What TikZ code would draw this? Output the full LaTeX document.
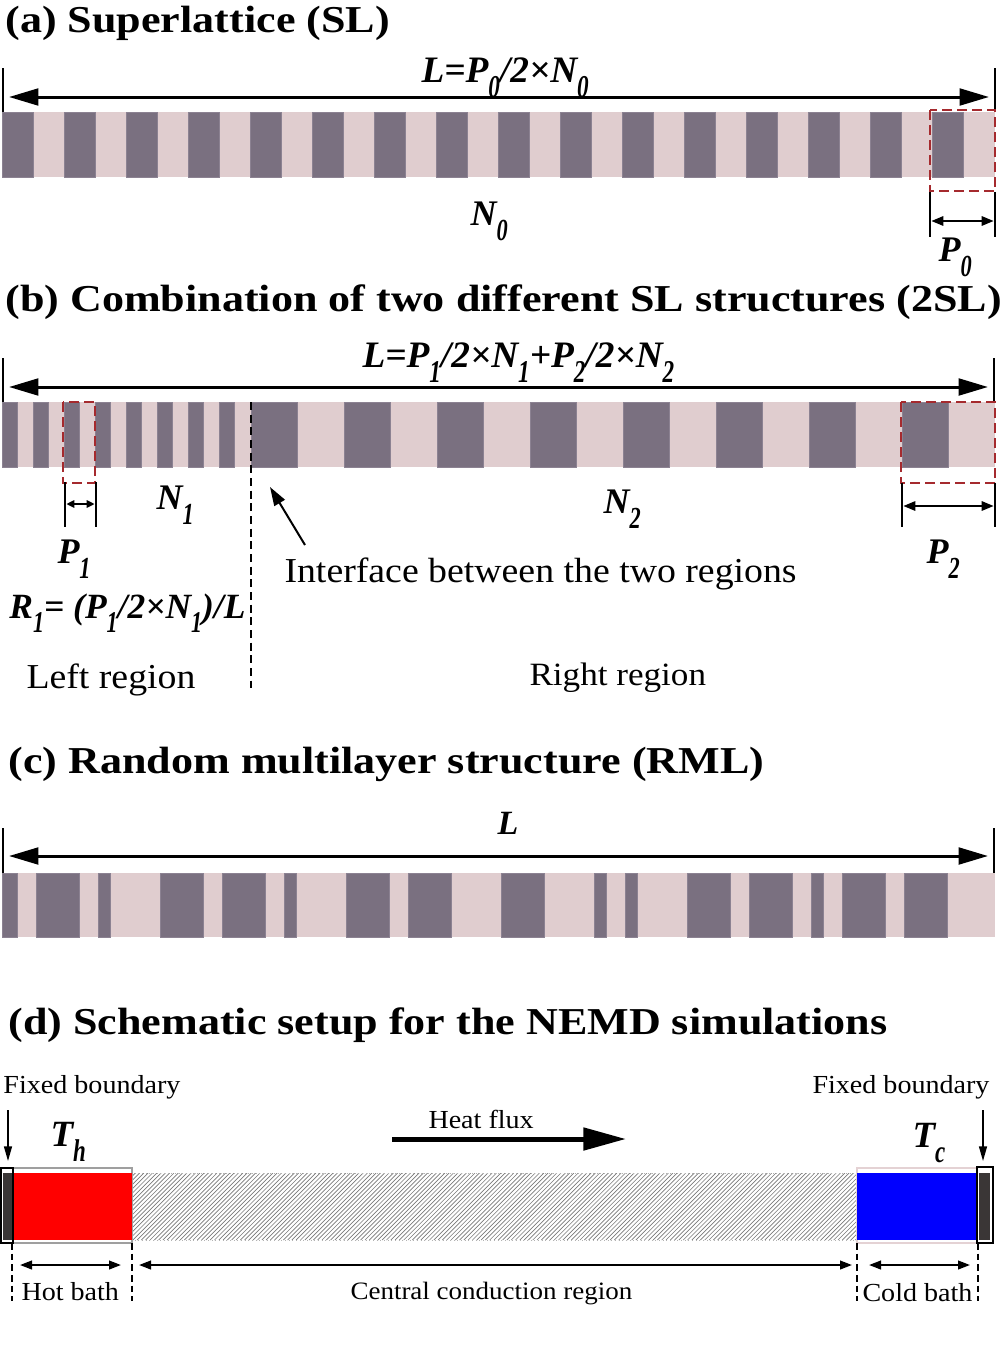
\documentclass[tikz,border=0pt]{standalone}
\usepackage{graphicx}
\usepackage{fontspec}
\setmainfont{Liberation Serif}
\newfontfamily\ttlfont{Liberation Serif}[FakeStretch=1.16]
\newfontfamily\lblfont{Liberation Serif}[FakeStretch=1.08]
\usetikzlibrary{arrows.meta}

\definecolor{slDark}{RGB}{122,112,128}
\definecolor{slEdge}{RGB}{140,130,146}
\definecolor{slLight}{RGB}{224,205,207}
\definecolor{boxRed}{RGB}{165,42,46}
\definecolor{fixGray}{RGB}{58,54,54}
\definecolor{coldEdge}{RGB}{228,210,212}
\definecolor{hatchGray}{RGB}{120,120,120}

\newcommand{\sbs}[1]{\raisebox{-0.42em}{\scalebox{0.62}[0.85]{#1}}}

\tikzset{every picture/.style={line width=0.75pt}}
\tikzset{
  ttl/.style={anchor=base west, inner sep=0pt, font=\ttlfont\bfseries\fontsize{28.5}{30}\selectfont},
  frm/.style={anchor=base west, inner sep=0pt, font=\bfseries\itshape\fontsize{27}{30}\selectfont},
  lbl/.style={anchor=base west, inner sep=0pt, font=\lblfont\fontsize{19.5}{22}\selectfont},
  big lbl/.style={anchor=base west, inner sep=0pt, font=\lblfont\fontsize{26.25}{28}\selectfont},
  dark/.style={fill=slDark, draw=slEdge, line width=0.4pt},
  tick/.style={line width=1.1pt},
  dimline/.style={line width=2.25pt, {Triangle[length=22pt,width=12.5pt]}-{Triangle[length=22pt,width=12.5pt]}, shorten <=4.5pt, shorten >=4.5pt},
  perline/.style={line width=1.5pt, {Triangle[length=9pt,width=7pt]}-{Triangle[length=9pt,width=7pt]}, shorten <=1pt, shorten >=1pt},
  boxdash/.style={draw=boxRed, line width=1.9pt, dash pattern=on 7.5pt off 3.75pt},
  bathdash/.style={line width=1.1pt, dash pattern=on 5pt off 3pt},
  bathline/.style={line width=1.5pt, {Triangle[length=9pt,width=6.5pt]}-{Triangle[length=9pt,width=6.5pt]}},
}

\begin{document}
\begin{tikzpicture}[x=0.75pt,y=0.75pt,yscale=-1,xscale=1]
\useasboundingbox (0,0) rectangle (1000,1349);

%%%%%%%%%% (a) Superlattice
% Text Node
\draw (5,32) node (ttlA) [ttl] {(a) Superlattice (SL)};
%Straight Lines: dimension L
\coordinate (aTL) at (3,68); \coordinate (aBL) at (3,112);
\coordinate (aTR) at (995,68); \coordinate (aBR) at (995,112);
\coordinate (aL) at (3,97); \coordinate (aR) at (995,97);
\draw [tick] (aTL) -- (aBL);
\draw [tick] (aTR) -- (aBR);
\draw [dimline] (aL) -- (aR);
% Text Node
\draw (421,82) node (frmA) [frm,font=\bfseries\itshape\fontsize{28}{30}\selectfont] {L=P\sbs{0}/2×N\sbs{0}};
%Shape: Rectangle (light base)
\draw [fill=slLight, draw=none] (2,112) rectangle (995,177);
%Shape: Rectangle (dark layers)
\draw [dark] (2,112) rectangle (33,177);
\draw [dark] (64,112) rectangle (95,177);
\draw [dark] (126,112) rectangle (157,177);
\draw [dark] (188,112) rectangle (219,177);
\draw [dark] (250,112) rectangle (281,177);
\draw [dark] (312,112) rectangle (343,177);
\draw [dark] (374,112) rectangle (405,177);
\draw [dark] (436,112) rectangle (467,177);
\draw [dark] (498,112) rectangle (529,177);
\draw [dark] (560,112) rectangle (591,177);
\draw [dark] (622,112) rectangle (653,177);
\draw [dark] (684,112) rectangle (715,177);
\draw [dark] (746,112) rectangle (777,177);
\draw [dark] (808,112) rectangle (839,177);
\draw [dark] (870,112) rectangle (901,177);
\draw [dark] (932,112) rectangle (963,177);
%Shape: Rectangle (period box)
\draw [boxdash] (930,110) rectangle (995,191);
%Straight Lines: period P0
\coordinate (p0TL) at (930,192); \coordinate (p0BL) at (930,237);
\coordinate (p0TR) at (995,192); \coordinate (p0BR) at (995,237);
\coordinate (p0L) at (930,221); \coordinate (p0R) at (995,221);
\draw [tick] (p0TL) -- (p0BL);
\draw [tick] (p0TR) -- (p0BR);
\draw [perline] (p0L) -- (p0R);
% Text Node
\draw (938,261) node (lblP0) [frm] {P\sbs{0}};
% Text Node
\draw (470,225) node (lblN0) [frm] {N\sbs{0}};

%%%%%%%%%% (b) Two SL structures
% Text Node
\draw (5,311) node (ttlB) [ttl] {(b) Combination of two different SL structures (2SL)};
%Straight Lines: dimension L
\coordinate (bTL) at (3,358); \coordinate (bBL) at (3,402);
\coordinate (bTR) at (994,358); \coordinate (bBR) at (994,402);
\coordinate (bL) at (3,387); \coordinate (bR) at (994,387);
\draw [tick] (bTL) -- (bBL);
\draw [tick] (bTR) -- (bBR);
\draw [dimline] (bL) -- (bR);
% Text Node
\draw (362,367) node (frmB) [frm,font=\bfseries\itshape\fontsize{28}{30}\selectfont] {L=P\sbs{1}/2×N\sbs{1}+P\sbs{2}/2×N\sbs{2}};
%Shape: Rectangle (light base)
\draw [fill=slLight, draw=none] (2,402) rectangle (995,467);
%Shape: Rectangle (dark layers, left region)
\draw [dark] (2,402) rectangle (17.5,467);
\draw [dark] (33,402) rectangle (48.5,467);
\draw [dark] (64,402) rectangle (79.5,467);
\draw [dark] (95,402) rectangle (110.5,467);
\draw [dark] (126,402) rectangle (141.5,467);
\draw [dark] (157,402) rectangle (172.5,467);
\draw [dark] (188,402) rectangle (203.5,467);
\draw [dark] (219,402) rectangle (234.5,467);
%Shape: Rectangle (dark layers, right region)
\draw [dark] (251,402) rectangle (297.5,467);
\draw [dark] (344,402) rectangle (390.5,467);
\draw [dark] (437,402) rectangle (483.5,467);
\draw [dark] (530,402) rectangle (576.5,467);
\draw [dark] (623,402) rectangle (669.5,467);
\draw [dark] (716,402) rectangle (762.5,467);
\draw [dark] (809,402) rectangle (855.5,467);
\draw [dark] (902,402) rectangle (948.5,467);
%Straight Lines: interface
\coordinate (ifTop) at (251,402); \coordinate (ifBot) at (251,688);
\draw [line width=1.5pt, dash pattern=on 6pt off 3.5pt] (ifTop) -- (ifBot);
%Shape: Rectangle (period boxes)
\draw [boxdash] (63,402) rectangle (95,483);
\draw [boxdash] (901,402) rectangle (995,483);
%Straight Lines: period P1
\coordinate (p1TL) at (65,482); \coordinate (p1BL) at (65,527);
\coordinate (p1TR) at (96,482); \coordinate (p1BR) at (96,527);
\coordinate (p1L) at (65,504); \coordinate (p1R) at (96,504);
\draw [tick] (p1TL) -- (p1BL);
\draw [tick] (p1TR) -- (p1BR);
\draw [perline,{Triangle[length=6pt,width=5.5pt]}-{Triangle[length=6pt,width=5.5pt]}] (p1L) -- (p1R);
%Straight Lines: period P2
\coordinate (p2TL) at (902,483); \coordinate (p2BL) at (902,527);
\coordinate (p2TR) at (995,483); \coordinate (p2BR) at (995,527);
\coordinate (p2L) at (902,506); \coordinate (p2R) at (995,506);
\draw [tick] (p2TL) -- (p2BL);
\draw [tick] (p2TR) -- (p2BR);
\draw [perline] (p2L) -- (p2R);
% Text Node
\draw (57,563) node (lblP1) [frm] {P\sbs{1}};
% Text Node
\draw (156,509) node (lblN1) [frm] {N\sbs{1}};
% Text Node
\draw (603,513) node (lblN2) [frm] {N\sbs{2}};
% Text Node
\draw (926,563) node (lblP2) [frm] {P\sbs{2}};
% Text Node
\draw (284,582) node (lblIf) [big lbl] {Interface between the two regions};
%Straight Lines: pointer to interface
\coordinate (ifTail) at (305,545); \coordinate (ifTip) at (270,487);
\draw [line width=1.5pt, -{Triangle[length=14pt,width=9pt]}] (ifTail) -- (ifTip);
% Text Node
\draw (9,618) node (frmR) [frm,font=\bfseries\itshape\fontsize{26.6}{30}\selectfont] {R\sbs{1}= (P\sbs{1}/2×N\sbs{1})/L};
% Text Node
\draw (26,688) node (lblLeft) [big lbl] {Left region};
% Text Node
\draw (529,685) node (lblRight) [big lbl,font=\lblfont\fontsize{24.4}{28}\selectfont] {Right region};

%%%%%%%%%% (c) Random multilayer
% Text Node
\draw (8,773) node (ttlC) [ttl] {(c) Random multilayer structure (RML)};
%Straight Lines: dimension L
\coordinate (cTL) at (3,828); \coordinate (cBL) at (3,873);
\coordinate (cTR) at (994,828); \coordinate (cBR) at (994,873);
\coordinate (cL) at (3,856); \coordinate (cR) at (994,856);
\draw [tick] (cTL) -- (cBL);
\draw [tick] (cTR) -- (cBR);
\draw [dimline] (cL) -- (cR);
% Text Node
\draw (497,834) node (lblL) [frm,font=\bfseries\itshape\fontsize{25.5}{30}\selectfont] {L};
%Shape: Rectangle (light base)
\draw [fill=slLight, draw=none] (2,873) rectangle (995,937);
%Shape: Rectangle (dark layers)
\draw [dark] (2,873) rectangle (17.3,937);
\draw [dark] (36.7,873) rectangle (79.3,937);
\draw [dark] (98.3,873) rectangle (110.7,937);
\draw [dark] (160.3,873) rectangle (203.3,937);
\draw [dark] (222.3,873) rectangle (265.7,937);
\draw [dark] (284.3,873) rectangle (296.7,937);
\draw [dark] (346.7,873) rectangle (389.7,937);
\draw [dark] (408.3,873) rectangle (451.7,937);
\draw [dark] (501,873) rectangle (544.3,937);
\draw [dark] (594.3,873) rectangle (606.3,937);
\draw [dark] (625,873) rectangle (637.3,937);
\draw [dark] (687,873) rectangle (730.3,937);
\draw [dark] (749,873) rectangle (792.7,937);
\draw [dark] (811.3,873) rectangle (823.3,937);
\draw [dark] (842.3,873) rectangle (885.3,937);
\draw [dark] (904.3,873) rectangle (947.3,937);

%%%%%%%%%% (d) NEMD setup
% Text Node
\draw (8,1034) node (ttlD) [ttl] {(d) Schematic setup for the NEMD simulations};
% Text Node
\draw (3,1093) node (lblFixL) [lbl] {Fixed boundary};
% Text Node
\draw (812,1093) node (lblFixR) [lbl] {Fixed boundary};
%Straight Lines: boundary pointers
\coordinate (fxLa) at (8,1110); \coordinate (fxLb) at (8,1161);
\coordinate (fxRa) at (983,1110); \coordinate (fxRb) at (983,1161);
\draw [line width=1.1pt, -{Triangle[length=11pt,width=6pt]}] (fxLa) -- (fxLb);
\draw [line width=1.1pt, -{Triangle[length=11pt,width=6pt]}] (fxRa) -- (fxRb);
% Text Node
\draw (50,1146) node (lblTh) [frm,font=\bfseries\itshape\fontsize{27.75}{30}\selectfont] {T\sbs{h}};
% Text Node
\draw (912,1147) node (lblTc) [frm,font=\bfseries\itshape\fontsize{27.75}{30}\selectfont] {T\sbs{c}};
% Text Node
\draw (428,1128) node (lblFlux) [lbl] {Heat flux};
%Straight Lines: heat flux
\coordinate (hfA) at (392,1139); \coordinate (hfB) at (626,1139);
\draw [line width=3.75pt, -{Triangle[length=32pt,width=16.5pt]}] (hfA) -- (hfB);
%Shape: Rectangle (central region, hatched)
\begin{scope}
\clip (132,1173) rectangle (857,1240);
\foreach \hx in {64,68.3,...,860}
  \draw [hatchGray, line width=0.5pt] (\hx,1240) -- (\hx+67,1173);
\end{scope}
\draw [draw=gray!60, dotted] (132,1173) rectangle (857,1240);
%Shape: Rectangle (hot bath)
\draw [draw=gray!75, line width=1.1pt] (13,1168) rectangle (132,1243);
\draw [fill=red, draw=none] (13,1173) rectangle (132,1240);
%Shape: Rectangle (cold bath)
\draw [draw=coldEdge, line width=1.1pt] (857,1168) rectangle (977,1243);
\draw [fill=blue, draw=none] (857,1173) rectangle (977,1240);
%Shape: Rectangle (fixed ends)
\draw [fill=white, line width=1.2pt] (1,1168) rectangle (13,1243);
\draw [fill=fixGray, draw=none] (3,1173) rectangle (12,1240);
\draw [fill=white, line width=1.2pt] (977,1167) rectangle (993,1243);
\draw [fill=fixGray, draw=none] (979,1173) rectangle (990,1240);
%Straight Lines: bath limits
\coordinate (dA1) at (12,1243); \coordinate (dA2) at (12,1301);
\coordinate (dB1) at (132,1243); \coordinate (dB2) at (132,1301);
\coordinate (dC1) at (857,1243); \coordinate (dC2) at (857,1301);
\coordinate (dD1) at (978,1243); \coordinate (dD2) at (978,1301);
\draw [bathdash] (dA1) -- (dA2);
\draw [bathdash] (dB1) -- (dB2);
\draw [bathdash] (dC1) -- (dC2);
\draw [bathdash] (dD1) -- (dD2);
%Straight Lines: bath widths
\coordinate (hbL) at (20,1265); \coordinate (hbR) at (121,1265);
\coordinate (ccL) at (139,1265); \coordinate (ccR) at (852,1265);
\coordinate (cbL) at (869,1265); \coordinate (cbR) at (970,1265);
\draw [bathline] (hbL) -- (hbR);
\draw [bathline] (ccL) -- (ccR);
\draw [bathline] (cbL) -- (cbR);
% Text Node
\draw (21,1300) node (lblHot) [lbl] {Hot bath};
% Text Node
\draw (350,1299) node (lblCen) [lbl,font=\lblfont\fontsize{18.75}{22}\selectfont] {Central conduction region};
% Text Node
\draw (862,1301) node (lblCold) [lbl] {Cold bath};
\end{tikzpicture}
\end{document}
